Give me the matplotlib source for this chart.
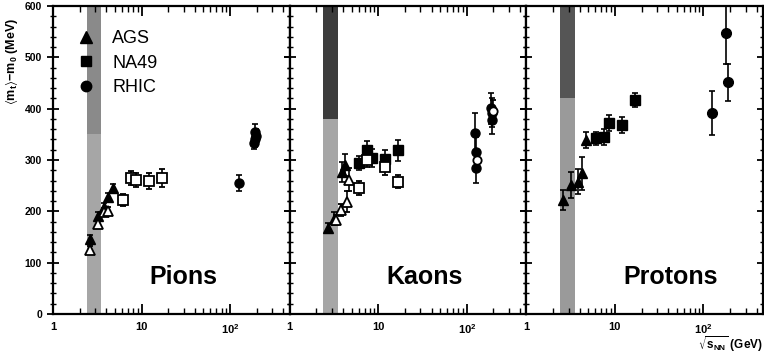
import numpy as np
import matplotlib.pyplot as plt
from matplotlib.ticker import MultipleLocator, LogLocator, FixedLocator, FixedFormatter, NullFormatter
from matplotlib.lines import Line2D

plt.rcParams['font.family'] = ['Liberation Sans', 'DejaVu Sans']
plt.rcParams['mathtext.default'] = 'regular'

# sqrt(s_NN) in GeV
ags_e = [2.6, 3.2, 3.8, 4.2, 4.7]
na49_e = [6.1, 7.5, 8.6, 12.0, 16.8]

# <m_t> - m_0 in MeV, filled = positive, open = negative
pi_ags_fill = [146, 191, 208, 228, 245]
pi_ags_open = [124, 175, 198, 201]
pi_na49_open = [222, 265, 261, 259, 265]
pi_na49_err = [12, 14, 14, 16, 18]
pi_rhic_e = [125, 190, 192, 188, 195]
pi_rhic_fill = [255, 355, 340, 333, 346]
pi_rhic_err = [16, 15, 14, 12, 14]

k_ags_fill_e = [2.7, 3.2, 3.9, 4.2]
k_ags_fill = [168, 186, 277, 290]
k_ags_open_e = [3.3, 3.8, 4.4, 4.7]
k_ags_open = [183, 203, 219, 262]
k_ags_err = [10, 12, 20, 22]
k_na49_fill = [294, 319, 304, 302, 319]
k_na49_fill_err = [14, 18, 18, 18, 20]
k_na49_open_e = [6.1, 7.5, 12.0, 16.8]
k_na49_open = [245, 300, 287, 258]
k_na49_open_err = [14, 14, 16, 12]
k_rhic_fill_e = [125, 127, 128, 190, 192, 193]
k_rhic_fill = [352, 316, 284, 401, 392, 378]
k_rhic_fill_err = [40, 28, 28, 30, 28, 28]
k_rhic_open_e = [130, 198]
k_rhic_open = [300, 396]

p_ags = [222, 251, 258, 274, 339]
p_ags_err = [20, 25, 25, 32, 15]
p_na49 = [342, 345, 372, 368, 417]
p_na49_err = [12, 15, 15, 15, 13]
p_rhic_e = [126, 178, 191]
p_rhic = [392, 547, 451]
p_rhic_err = [43, 60, 36]

band = (2.4, 3.5)

fig = plt.figure(figsize=(7.64, 3.56), dpi=100)
left, bottom, height = 53 / 764, 1 - 314 / 356, 308 / 356
width = (763 - 53) / 764 / 3
axes = [fig.add_axes([left + i * width, bottom, width, height]) for i in range(3)]

eb = dict(ecolor='black', elinewidth=1.2, capsize=2, capthick=1.2, linestyle='none', zorder=3)


def setup(ax, name, name_x, show_y):
    ax.set_xscale('log')
    ax.set_xlim(1, 470)
    ax.set_ylim(0, 600)
    for s in ax.spines.values():
        s.set_linewidth(1.6)
    ax.yaxis.set_major_locator(MultipleLocator(100))
    ax.yaxis.set_minor_locator(MultipleLocator(20))
    ax.xaxis.set_major_locator(FixedLocator([1, 10, 100]))
    ax.xaxis.set_major_formatter(FixedFormatter(['1', '10', '$10^2$']))
    ax.xaxis.set_minor_locator(LogLocator(base=10, subs=np.arange(2, 10)))
    ax.xaxis.set_minor_formatter(NullFormatter())
    ax.tick_params(axis='y', which='major', direction='inout', length=9, width=1.3,
                   left=True, right=True, labelsize=7.5)
    ax.tick_params(axis='y', which='minor', direction='inout', length=5, width=1.0,
                   left=True, right=True)
    ax.tick_params(axis='x', which='major', direction='in', length=7, width=1.3,
                   top=True, bottom=True, labelsize=8, pad=6)
    ax.tick_params(axis='x', which='minor', direction='in', length=4, width=1.0,
                   top=True, bottom=True)
    for lab in ax.get_xticklabels() + ax.get_yticklabels():
        lab.set_fontweight('bold')
    if not show_y:
        ax.set_yticklabels([])
    ax.text(name_x, 0.12, name, transform=ax.transAxes, ha='center', va='center',
            fontsize=18, fontweight='bold')


def shade(ax, split, low_c, high_c):
    ax.axvspan(band[0], band[1], ymin=0, ymax=split / 600, color=low_c, lw=0, zorder=1)
    ax.axvspan(band[0], band[1], ymin=split / 600, ymax=1, color=high_c, lw=0, zorder=1)


# Pions
ax = axes[0]
shade(ax, 350, '#a6a6a6', '#8a8a8a')
ax.errorbar(ags_e, pi_ags_fill, yerr=8, marker='^', ms=7, mfc='black', mec='black', **eb)
ax.errorbar(ags_e[:4], pi_ags_open, yerr=8, marker='^', ms=7, mfc='white', mec='black', mew=1.3, **eb)
ax.errorbar(na49_e, pi_na49_open, yerr=pi_na49_err, marker='s', ms=6.5, mfc='white', mec='black', mew=1.3, **eb)
ax.errorbar(pi_rhic_e, pi_rhic_fill, yerr=pi_rhic_err, marker='o', ms=6.5, mfc='black', mec='black', **eb)
setup(ax, 'Pions', 0.55, True)
ax.set_ylabel(r'$\langle m_t\rangle$$-$m$_0$ (MeV)', fontsize=9, fontweight='bold')
ax.yaxis.set_label_coords(-0.14, 0.82)

handles = [Line2D([], [], ls='none', marker='^', ms=8, color='black'),
           Line2D([], [], ls='none', marker='s', ms=7, color='black'),
           Line2D([], [], ls='none', marker='o', ms=7.5, color='black')]
ax.legend(handles, ['AGS', 'NA49', 'RHIC'], loc='upper left', bbox_to_anchor=(0.11, 0.922),
          frameon=False, fontsize=13, handlelength=0.8, handletextpad=1.05,
          labelspacing=0.42, borderpad=0, borderaxespad=0)

# Kaons
ax = axes[1]
shade(ax, 380, '#a6a6a6', '#3c3c3c')
ax.errorbar(k_ags_fill_e, k_ags_fill, yerr=k_ags_err, marker='^', ms=7, mfc='black', mec='black', **eb)
ax.errorbar(k_ags_open_e, k_ags_open, yerr=k_ags_err, marker='^', ms=7, mfc='white', mec='black', mew=1.3, **eb)
ax.errorbar(na49_e, k_na49_fill, yerr=k_na49_fill_err, marker='s', ms=6.5, mfc='black', mec='black', **eb)
ax.errorbar(k_na49_open_e, k_na49_open, yerr=k_na49_open_err, marker='s', ms=6.5, mfc='white', mec='black', mew=1.3, **eb)
ax.errorbar(k_rhic_fill_e, k_rhic_fill, yerr=k_rhic_fill_err, marker='o', ms=6.5, mfc='black', mec='black', **eb)
ax.errorbar(k_rhic_open_e, k_rhic_open, yerr=20, marker='o', ms=6, mfc='white', mec='black', mew=1.3, **eb)
setup(ax, 'Kaons', 0.57, False)

# Protons
ax = axes[2]
shade(ax, 420, '#9a9a9a', '#555555')
ax.errorbar(ags_e, p_ags, yerr=p_ags_err, marker='^', ms=7, mfc='black', mec='black', **eb)
ax.errorbar(na49_e, p_na49, yerr=p_na49_err, marker='s', ms=6.5, mfc='black', mec='black', **eb)
ax.errorbar(p_rhic_e, p_rhic, yerr=p_rhic_err, marker='o', ms=7, mfc='black', mec='black', **eb)
setup(ax, 'Protons', 0.61, False)
ax.set_xlabel(r'$\sqrt{s_{NN}}$ (GeV)', fontsize=8.5, fontweight='bold', loc='right', labelpad=-1)

fig.savefig('out.png', dpi=100)
